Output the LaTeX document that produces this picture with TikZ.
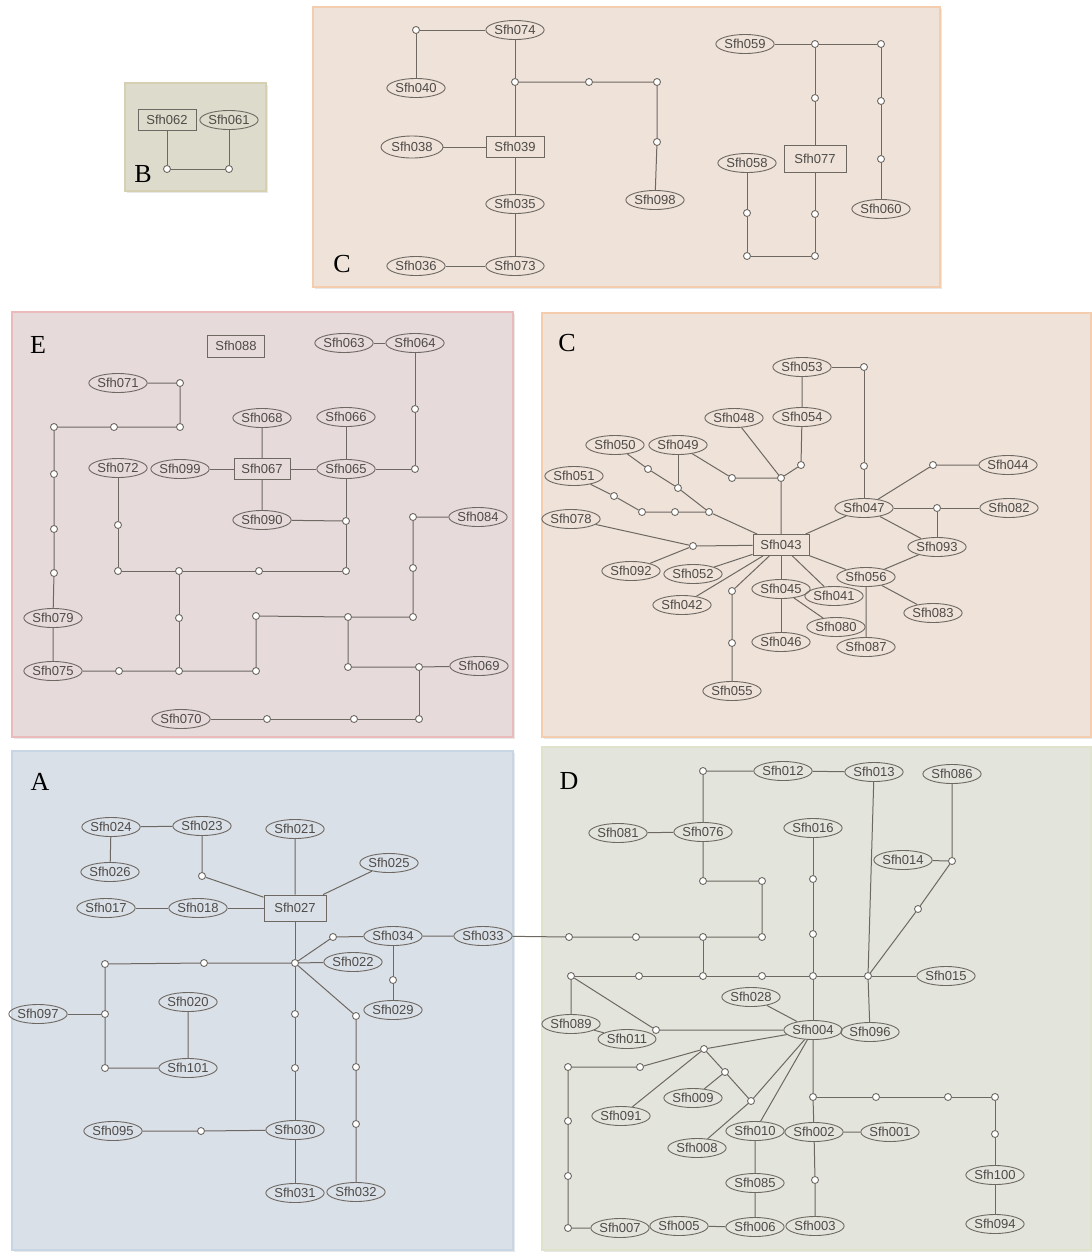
\documentclass[tikz,border=0pt]{standalone}
\usepackage{fontspec}
\setmainfont{Liberation Sans}
\newfontfamily\panelfont{Liberation Serif}
\usetikzlibrary{shapes.geometric,shadows}
\definecolor{lnc}{HTML}{6E6862}
\definecolor{txc}{HTML}{4E4A47}
\definecolor{fillB}{HTML}{DCDBCC}\definecolor{brdB}{HTML}{D6D0B2}
\definecolor{fillC}{HTML}{EEE2D9}\definecolor{brdC}{HTML}{F4CDAE}
\definecolor{fillE}{HTML}{E6DADB}\definecolor{brdE}{HTML}{EBBBBB}
\definecolor{fillA}{HTML}{D9E0E8}\definecolor{brdA}{HTML}{C7D5E4}
\definecolor{fillD}{HTML}{E3E4DC}\definecolor{brdD}{HTML}{E0E3CC}
\tikzset{
  el/.style={ellipse, draw=lnc, line width=0.9pt, inner sep=0pt,
    minimum width=58pt, minimum height=19pt, text=txc,
    font=\fontsize{13}{15}\selectfont},
  rc/.style={rectangle, draw=lnc, line width=0.9pt, inner sep=0pt,
    minimum width=58pt, minimum height=21pt, text=txc,
    font=\fontsize{13}{15}\selectfont},
  dot/.style={circle, draw=lnc, fill=white, line width=0.9pt,
    minimum size=7pt, inner sep=0pt},
  edge/.style={draw=lnc, line width=1pt},
  panel/.style={line width=1.2pt,
    drop shadow={opacity=0.18, shadow xshift=1.5pt, shadow yshift=-2pt}},
  plabel/.style={font=\panelfont\fontsize{26}{28}\selectfont, text=black, inner sep=0pt}
}
\begin{document}
\begin{tikzpicture}[x=1pt,y=-1pt]
\useasboundingbox (0,0) rectangle (1092,1254);

% ---------- panels ----------
\draw[panel, fill=fillB, draw=brdB] (125,83) rectangle (266,191);
\draw[panel, fill=fillC, draw=brdC] (313,7) rectangle (940,287);
\draw[panel, fill=fillE, draw=brdE] (12,312) rectangle (513,737);
\draw[panel, fill=fillC, draw=brdC] (542,313) rectangle (1091,737);
\draw[panel, fill=fillA, draw=brdA] (12,751) rectangle (513,1250);
\draw[panel, fill=fillD, draw=brdD] (542,747) rectangle (1091,1250);

\node[plabel] (labB) at (143,174) {B};
\node[plabel] (labC1) at (342,264) {C};
\node[plabel] (labE) at (38,345) {E};
\node[plabel] (labC2) at (567,343) {C};
\node[plabel] (labA) at (40,782) {A};
\node[plabel] (labD) at (569,781) {D};

% ---------- group B ----------
\node[rc] (n062) at (167,120) {Sfh062};
\node[el] (n061) at (229,120) {Sfh061};
\node[dot] (b1) at (167,169) {};
\node[dot] (b2) at (229,169) {};
\draw[edge] (n062) -- (b1) -- (b2) -- (n061);

% ---------- group C (top) ----------
\node[el] (n074) at (515,30) {Sfh074};
\node[el] (n040) at (416,88) {Sfh040};
\node[rc] (n039) at (515,147) {Sfh039};
\node[el, minimum width=62pt, minimum height=22pt] (n038) at (412,147) {Sfh038};
\node[el] (n035) at (515,204) {Sfh035};
\node[el] (n073) at (515,266) {Sfh073};
\node[el] (n036) at (416,266) {Sfh036};
\node[el] (n098) at (655,200) {Sfh098};
\node[dot] (ca) at (416,30) {};
\node[dot] (cb) at (515,82) {};
\node[dot] (cc) at (589,82) {};
\node[dot] (cd) at (657,82) {};
\node[dot] (ce) at (657,142) {};
\draw[edge] (n040) -- (ca) -- (n074) -- (cb) -- (n039);
\draw[edge] (cb) -- (cc) -- (cd) -- (ce) -- (n098);
\draw[edge] (n038) -- (n039) -- (n035) -- (n073) -- (n036);

\node[el] (n059) at (745,44) {Sfh059};
\node[rc, minimum width=62pt, minimum height=27pt] (n077) at (815,159) {Sfh077};
\node[el] (n058) at (747,163) {Sfh058};
\node[el] (n060) at (881,209) {Sfh060};
\node[dot] (cf) at (815,44) {};
\node[dot] (cg) at (881,44) {};
\node[dot] (ch) at (815,98) {};
\node[dot] (ci) at (881,101) {};
\node[dot] (cj) at (881,159) {};
\node[dot] (ck) at (747,213) {};
\node[dot] (cl) at (747,256) {};
\node[dot] (cm) at (815,256) {};
\node[dot] (cn) at (815,214) {};
\draw[edge] (n059) -- (cf) -- (cg) -- (ci) -- (cj) -- (n060);
\draw[edge] (cf) -- (ch) -- (n077) -- (cn) -- (cm) -- (cl) -- (ck) -- (n058);

% ---------- group E ----------
\node[rc, minimum width=57pt, minimum height=22pt] (n088) at (236,346) {Sfh088};
\node[el] (n063) at (344,343) {Sfh063};
\node[el] (n064) at (415,343) {Sfh064};
\node[el] (n065) at (346,469) {Sfh065};
\node[el] (n066) at (346,417) {Sfh066};
\node[rc, minimum width=56pt] (n067) at (262,469) {Sfh067};
\node[el] (n068) at (262,418) {Sfh068};
\node[el] (n099) at (180,469) {Sfh099};
\node[el] (n090) at (262,520) {Sfh090};
\node[el] (n072) at (118,468) {Sfh072};
\node[el] (n071) at (118,383) {Sfh071};
\node[el] (n079) at (53,618) {Sfh079};
\node[el] (n075) at (53,671) {Sfh075};
\node[el] (n084) at (478,517) {Sfh084};
\node[el] (n069) at (479,666) {Sfh069};
\node[el] (n070) at (181,719) {Sfh070};
\node[dot] (p1) at (415,409) {};
\node[dot] (p2) at (415,469) {};
\node[dot] (q1) at (180,383) {};
\node[dot] (q2) at (180,427) {};
\node[dot] (q3) at (114,427) {};
\node[dot] (q4) at (54,427) {};
\node[dot] (q5) at (54,474) {};
\node[dot] (q6) at (54,529) {};
\node[dot] (q7) at (54,573) {};
\node[dot] (r1) at (346,521) {};
\node[dot] (r2) at (346,571) {};
\node[dot] (r3) at (259,571) {};
\node[dot] (r4) at (179,571) {};
\node[dot] (r5) at (118,571) {};
\node[dot] (r6) at (118,525) {};
\node[dot] (r7) at (179,618) {};
\node[dot] (r8) at (179,671) {};
\node[dot] (r9) at (119,671) {};
\node[dot] (r10) at (256,671) {};
\node[dot] (r11) at (256,616) {};
\node[dot] (r12) at (348,617) {};
\node[dot] (r13) at (413,617) {};
\node[dot] (r14) at (413,568) {};
\node[dot] (r15) at (413,517) {};
\node[dot] (r16) at (348,667) {};
\node[dot] (r17) at (419,667) {};
\node[dot] (r18) at (419,719) {};
\node[dot] (r19) at (354,719) {};
\node[dot] (r20) at (267,719) {};
\draw[edge] (n063) -- (n064) -- (p1) -- (p2) -- (n065);
\draw[edge] (n066) -- (n065) -- (n067) -- (n099);
\draw[edge] (n068) -- (n067) -- (n090) -- (r1);
\draw[edge] (n065) -- (r1) -- (r2) -- (r3) -- (r4) -- (r5) -- (r6) -- (n072);
\draw[edge] (r4) -- (r7) -- (r8);
\draw[edge] (n075) -- (r9) -- (r8) -- (r10) -- (r11) -- (r12) -- (r13) -- (r14) -- (r15) -- (n084);
\draw[edge] (r12) -- (r16) -- (r17) -- (n069);
\draw[edge] (r17) -- (r18) -- (r19) -- (r20) -- (n070);
\draw[edge] (n071) -- (q1) -- (q2) -- (q3) -- (q4) -- (q5) -- (q6) -- (q7) -- (n079) -- (n075);

% ---------- group C (right) ----------
\node[el] (n053) at (802,367) {Sfh053};
\node[el] (n054) at (802,417) {Sfh054};
\node[el] (n047) at (864,508) {Sfh047};
\node[el] (n048) at (734,418) {Sfh048};
\node[el] (n049) at (678,445) {Sfh049};
\node[el] (n050) at (615,445) {Sfh050};
\node[el] (n051) at (574,476) {Sfh051};
\node[el] (n078) at (571,519) {Sfh078};
\node[rc, minimum width=56pt] (n043) at (781,545) {Sfh043};
\node[el] (n092) at (631,571) {Sfh092};
\node[el] (n052) at (693,574) {Sfh052};
\node[el] (n042) at (682,605) {Sfh042};
\node[el] (n055) at (732,691) {Sfh055};
\node[el] (n045) at (781,589) {Sfh045};
\node[el] (n046) at (781,642) {Sfh046};
\node[el] (n080) at (836,627) {Sfh080};
\node[el] (n041) at (834,596) {Sfh041};
\node[el] (n056) at (866,577) {Sfh056};
\node[el] (n087) at (866,647) {Sfh087};
\node[el] (n083) at (933,613) {Sfh083};
\node[el] (n093) at (937,547) {Sfh093};
\node[el] (n082) at (1009,508) {Sfh082};
\node[el] (n044) at (1008,465) {Sfh044};
\node[dot] (s1) at (864,367) {};
\node[dot] (s2) at (864,466) {};
\node[dot] (s3) at (801,465) {};
\node[dot] (s4) at (781,478) {};
\node[dot] (s5) at (732,478) {};
\node[dot] (s6) at (648,469) {};
\node[dot] (s7) at (678,488) {};
\node[dot] (s8) at (709,512) {};
\node[dot] (s9) at (614,496) {};
\node[dot] (s10) at (642,512) {};
\node[dot] (s11) at (675,512) {};
\node[dot] (s12) at (693,546) {};
\node[dot] (s13) at (732,591) {};
\node[dot] (s14) at (732,643) {};
\node[dot] (s15) at (937,508) {};
\node[dot] (s16) at (933,465) {};
\draw[edge] (n053) -- (s1) -- (s2) -- (n047);
\draw[edge] (n053) -- (n054) -- (s3) -- (s4) -- (n043);
\draw[edge] (n048) -- (s4);
\draw[edge] (n049) -- (s5) -- (s4);
\draw[edge] (n049) -- (s7);
\draw[edge] (n050) -- (s6) -- (s7) -- (s8) -- (n043);
\draw[edge] (n051) -- (s9) -- (s10) -- (s11) -- (s8);
\draw[edge] (n078) -- (s12) -- (n043);
\draw[edge] (n092) -- (s12);
\draw[edge] (n043) -- (n052);
\draw[edge] (n043) -- (n042);
\draw[edge] (n043) -- (s13) -- (s14) -- (n055);
\draw[edge] (n043) -- (n045) -- (n046);
\draw[edge] (n045) -- (n080);
\draw[edge] (n043) -- (n041);
\draw[edge] (n043) -- (n056) -- (n087);
\draw[edge] (n056) -- (n083);
\draw[edge] (n056) -- (n093) -- (n047) -- (n043);
\draw[edge] (n047) -- (s15) -- (n082);
\draw[edge] (s15) -- (n093);
\draw[edge] (n047) -- (s16) -- (n044);

% ---------- group A ----------
\node[el] (n024) at (111,827) {Sfh024};
\node[el] (n023) at (202,826) {Sfh023};
\node[el] (n026) at (110,872) {Sfh026};
\node[el] (n021) at (295,829) {Sfh021};
\node[el] (n025) at (389,863) {Sfh025};
\node[rc, minimum width=62pt, minimum height=26pt] (n027) at (295,908) {Sfh027};
\node[el] (n018) at (198,908) {Sfh018};
\node[el] (n017) at (106,908) {Sfh017};
\node[el] (n034) at (393,936) {Sfh034};
\node[el] (n033) at (483,936) {Sfh033};
\node[el] (n022) at (353,962) {Sfh022};
\node[el] (n029) at (393,1010) {Sfh029};
\node[el] (n097) at (38,1014) {Sfh097};
\node[el] (n101) at (188,1068) {Sfh101};
\node[el] (n020) at (188,1002) {Sfh020};
\node[el] (n030) at (295,1130) {Sfh030};
\node[el] (n095) at (113,1131) {Sfh095};
\node[el] (n031) at (295,1193) {Sfh031};
\node[el] (n032) at (356,1192) {Sfh032};
\node[dot] (t1) at (202,876) {};
\node[dot] (t2) at (295,963) {};
\node[dot] (t3) at (333,937) {};
\node[dot] (t4) at (204,963) {};
\node[dot] (t5) at (105,964) {};
\node[dot] (t6) at (393,980) {};
\node[dot] (t7) at (105,1014) {};
\node[dot] (t8) at (105,1068) {};
\node[dot] (t9) at (295,1014) {};
\node[dot] (t10) at (295,1068) {};
\node[dot] (t11) at (201,1131) {};
\node[dot] (t12) at (356,1016) {};
\node[dot] (t13) at (356,1067) {};
\node[dot] (t14) at (356,1124) {};
\draw[edge] (n026) -- (n024) -- (n023) -- (t1) -- (n027);
\draw[edge] (n021) -- (n027) -- (n025);
\draw[edge] (n017) -- (n018) -- (n027) -- (t2);
\draw[edge] (t2) -- (t3) -- (n034) -- (n033);
\draw[edge] (t2) -- (n022);
\draw[edge] (t2) -- (t4) -- (t5) -- (t7) -- (t8) -- (n101) -- (n020);
\draw[edge] (n097) -- (t7);
\draw[edge] (t2) -- (t9) -- (t10) -- (n030) -- (n031);
\draw[edge] (n095) -- (t11) -- (n030);
\draw[edge] (t2) -- (t12) -- (t13) -- (t14) -- (n032);
\draw[edge] (n034) -- (t6) -- (n029);

% ---------- group D ----------
\node[el] (n012) at (783,771) {Sfh012};
\node[el] (n013) at (874,772) {Sfh013};
\node[el] (n086) at (952,774) {Sfh086};
\node[el] (n076) at (703,832) {Sfh076};
\node[el] (n081) at (618,833) {Sfh081};
\node[el] (n016) at (813,828) {Sfh016};
\node[el] (n014) at (903,860) {Sfh014};
\node[el] (n015) at (946,976) {Sfh015};
\node[el] (n028) at (751,997) {Sfh028};
\node[el] (n004) at (813,1030) {Sfh004};
\node[el] (n096) at (870,1032) {Sfh096};
\node[el] (n089) at (571,1024) {Sfh089};
\node[el] (n011) at (627,1039) {Sfh011};
\node[el] (n009) at (693,1098) {Sfh009};
\node[el] (n091) at (621,1116) {Sfh091};
\node[el] (n008) at (697,1148) {Sfh008};
\node[el] (n010) at (755,1131) {Sfh010};
\node[el] (n002) at (814,1132) {Sfh002};
\node[el] (n001) at (890,1132) {Sfh001};
\node[el] (n100) at (995,1175) {Sfh100};
\node[el] (n094) at (995,1224) {Sfh094};
\node[el] (n085) at (755,1183) {Sfh085};
\node[el] (n006) at (755,1227) {Sfh006};
\node[el] (n005) at (679,1226) {Sfh005};
\node[el] (n003) at (815,1226) {Sfh003};
\node[el] (n007) at (620,1228) {Sfh007};
\node[dot] (u1) at (703,771) {};
\node[dot] (u2) at (703,881) {};
\node[dot] (u3) at (762,881) {};
\node[dot] (u4) at (762,937) {};
\node[dot] (u5) at (703,937) {};
\node[dot] (u6) at (636,937) {};
\node[dot] (u7) at (569,937) {};
\node[dot] (u8) at (703,976) {};
\node[dot] (u9) at (639,976) {};
\node[dot] (u10) at (571,976) {};
\node[dot] (u11) at (762,976) {};
\node[dot] (u12) at (813,976) {};
\node[dot] (u13) at (868,976) {};
\node[dot] (u14) at (813,879) {};
\node[dot] (u15) at (813,934) {};
\node[dot] (u16) at (952,861) {};
\node[dot] (u17) at (918,909) {};
\node[dot] (v1) at (656,1030) {};
\node[dot] (v2) at (704,1049) {};
\node[dot] (v3) at (640,1067) {};
\node[dot] (v4) at (568,1067) {};
\node[dot] (v5) at (725,1072) {};
\node[dot] (v6) at (751,1101) {};
\node[dot] (v7) at (813,1097) {};
\node[dot] (v8) at (876,1097) {};
\node[dot] (v9) at (948,1097) {};
\node[dot] (v10) at (995,1097) {};
\node[dot] (v11) at (995,1134) {};
\node[dot] (v12) at (815,1180) {};
\node[dot] (v13) at (568,1121) {};
\node[dot] (v14) at (568,1176) {};
\node[dot] (v15) at (568,1228) {};
\draw[edge] (n013) -- (n012) -- (u1) -- (n076) -- (n081);
\draw[edge] (n076) -- (u2) -- (u3) -- (u4) -- (u5) -- (u6) -- (u7) -- (n033);
\draw[edge] (u5) -- (u8);
\draw[edge] (u10) -- (u9) -- (u8) -- (u11) -- (u12) -- (u13) -- (n015);
\draw[edge] (n016) -- (u14) -- (u15) -- (u12) -- (n004);
\draw[edge] (n013) -- (u13) -- (n096);
\draw[edge] (n086) -- (u16) -- (u17) -- (u13);
\draw[edge] (n014) -- (u16);
\draw[edge] (u10) -- (n089) -- (n011);
\draw[edge] (u10) -- (v1) -- (n004);
\draw[edge] (n028) -- (n004);
\draw[edge] (n004) -- (v2) -- (v3) -- (v4) -- (v13) -- (v14) -- (v15) -- (n007);
\draw[edge] (v2) -- (n091);
\draw[edge] (v2) -- (v5) -- (v6);
\draw[edge] (n009) -- (v5);
\draw[edge] (n004) -- (v6) -- (n008);
\draw[edge] (n004) -- (n010) -- (n085) -- (n006) -- (n005);
\draw[edge] (n004) -- (v7) -- (n002) -- (n001);
\draw[edge] (v7) -- (v8) -- (v9) -- (v10) -- (v11) -- (n100) -- (n094);
\draw[edge] (n002) -- (v12) -- (n003);
\end{tikzpicture}
\end{document}
